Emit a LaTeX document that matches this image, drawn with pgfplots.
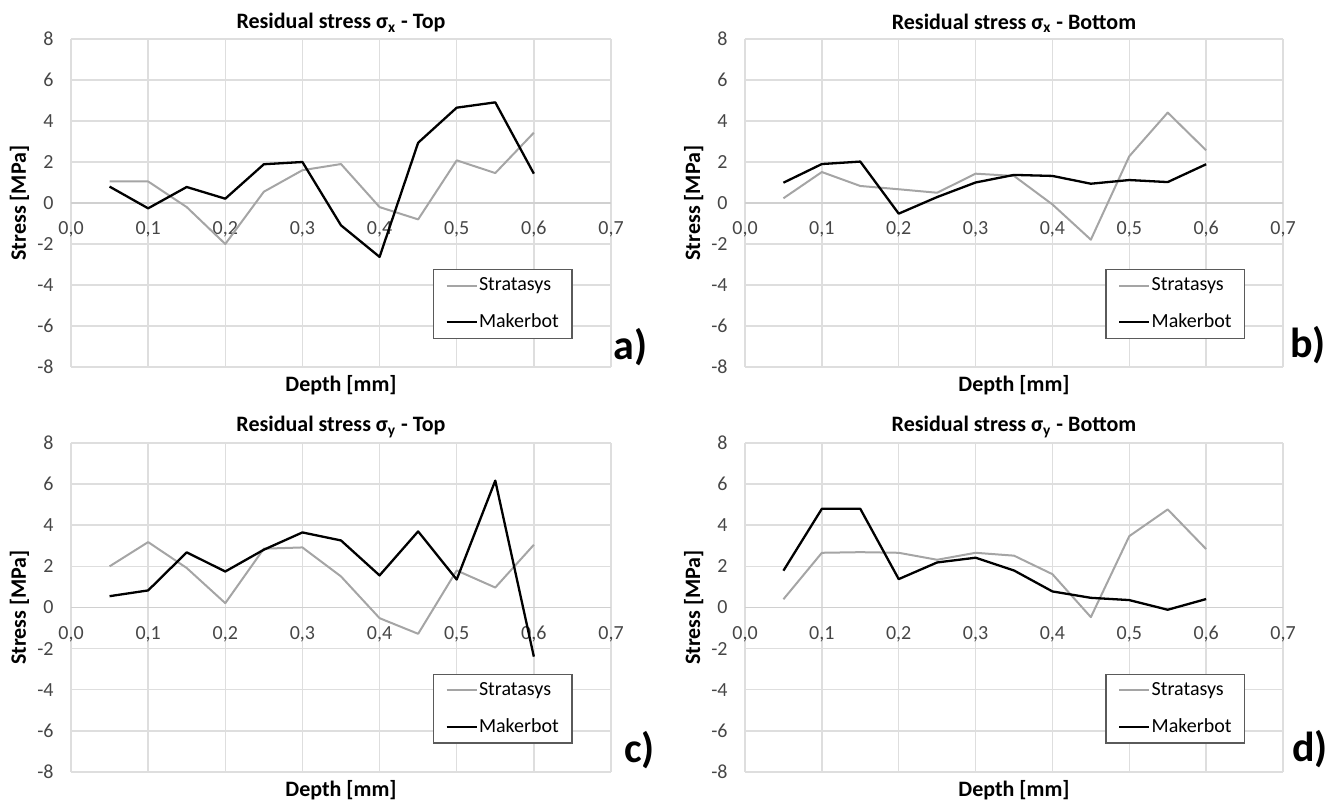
\documentclass[border=0pt]{standalone}
\usepackage{fontspec}
\setmainfont{Carlito}
\usepackage{pgfplots}
\pgfplotsset{compat=1.18}
\definecolor{strat}{RGB}{165,165,165}
\definecolor{gridc}{RGB}{222,222,222}
\definecolor{zeroc}{RGB}{208,208,208}
\definecolor{legc}{RGB}{90,90,90}
\definecolor{tickc}{RGB}{70,70,70}

\pgfplotsset{
  panel/.style={
    scale only axis, width=270pt, height=164pt,
    xmin=0, xmax=0.7, ymin=-8, ymax=8,
    xtick={0,0.1,0.2,0.3,0.4,0.5,0.6,0.7},
    ytick={-8,-6,-4,-2,0,2,4,6,8},
    grid=major, major grid style={gridc, line width=0.75pt},
    extra y ticks={0}, extra y tick labels={},
    extra y tick style={grid=major, major grid style={zeroc, line width=0.8pt}},
    axis line style={draw=none},
    major tick length=0pt,
    /pgf/number format/assume math mode=true,
    tick label style={font=\fontsize{10}{12}\selectfont, text=tickc},
    x tick label style={/pgf/number format/.cd, fixed, fixed zerofill, precision=1, use comma, /tikz/.cd, anchor=base, yshift=66pt},
    y tick label style={anchor=east, inner sep=0pt, xshift=-8.5pt},
    title style={font=\bfseries\fontsize{11}{13}\selectfont, at={(axis description cs:0.5,1)}, anchor=center, yshift=2pt},
    every axis x label/.style={at={(axis description cs:0.5,0)}, anchor=center, yshift=-9pt, font=\bfseries\fontsize{11}{13}\selectfont},
    every axis y label/.style={at={(axis description cs:-0.0954,0.5)}, rotate=90, anchor=center, font=\bfseries\fontsize{11}{13}\selectfont},
    xlabel={Depth [mm]}, ylabel={Stress [MPa]},
    legend style={at={(axis description cs:0.670,0.299)}, anchor=north west, draw=legc, line width=0.75pt, fill=white,
      inner xsep=6pt, inner ysep=2pt, row sep=6pt, font=\fontsize{10}{12}\selectfont,
      nodes={inner xsep=0.6pt, inner ysep=2pt, text depth=0.15em}},
    legend cell align=left,
    legend image code/.code={\draw[#1] (0pt,0pt) -- (15pt,0pt);},
    clip=false,
  },
  sline/.style={draw=strat, line width=1.0pt, line join=round, no markers},
  mline/.style={draw=black, line width=1.15pt, line join=round, no markers},
}

\begin{document}
\begin{tikzpicture}
\path[use as bounding box] (0,0) rectangle (667pt,400.5pt);

% a) sigma_x Top
\begin{axis}[panel, at={(35.5pt,217pt)}, anchor=south west,
  title={Residual stress σ\textsubscript{x} - Top}]
\addplot[sline] coordinates {(0.05,1.05) (0.10,1.05) (0.15,-0.2) (0.20,-2.0) (0.25,0.55) (0.30,1.6) (0.35,1.9) (0.40,-0.2) (0.45,-0.8) (0.50,2.08) (0.55,1.46) (0.60,3.43)};
\addplot[mline] coordinates {(0.05,0.8) (0.10,-0.26) (0.15,0.78) (0.20,0.21) (0.25,1.89) (0.30,2.0) (0.35,-1.09) (0.40,-2.63) (0.45,2.94) (0.50,4.65) (0.55,4.91) (0.60,1.43)};
\legend{Stratasys, Makerbot}
\end{axis}

% b) sigma_x Bottom
\begin{axis}[panel, at={(372.5pt,217pt)}, anchor=south west, width=269pt,
  title={Residual stress σ\textsubscript{x} - Bottom}]
\addplot[sline] coordinates {(0.05,0.23) (0.10,1.51) (0.15,0.83) (0.20,0.67) (0.25,0.5) (0.30,1.43) (0.35,1.32) (0.40,-0.07) (0.45,-1.79) (0.50,2.28) (0.55,4.41) (0.60,2.57)};
\addplot[mline] coordinates {(0.05,0.99) (0.10,1.9) (0.15,2.02) (0.20,-0.52) (0.25,0.29) (0.30,1.0) (0.35,1.37) (0.40,1.32) (0.45,0.94) (0.50,1.12) (0.55,1.02) (0.60,1.89)};
\legend{Stratasys, Makerbot}
\end{axis}

% c) sigma_y Top
\begin{axis}[panel, at={(35.5pt,14.5pt)}, anchor=south west, height=164.5pt,
  title={Residual stress σ\textsubscript{y} - Top}]
\addplot[sline] coordinates {(0.05,2.0) (0.10,3.18) (0.15,1.92) (0.20,0.21) (0.25,2.86) (0.30,2.92) (0.35,1.51) (0.40,-0.52) (0.45,-1.28) (0.50,1.8) (0.55,0.97) (0.60,3.05)};
\addplot[mline] coordinates {(0.05,0.55) (0.10,0.83) (0.15,2.68) (0.20,1.75) (0.25,2.81) (0.30,3.65) (0.35,3.26) (0.40,1.56) (0.45,3.7) (0.50,1.36) (0.55,6.17) (0.60,-2.39)};
\legend{Stratasys, Makerbot}
\end{axis}

% d) sigma_y Bottom
\begin{axis}[panel, at={(372.5pt,14.5pt)}, anchor=south west, width=269pt, height=164.5pt,
  title={Residual stress σ\textsubscript{y} - Bottom}]
\addplot[sline] coordinates {(0.05,0.4) (0.10,2.66) (0.15,2.69) (0.20,2.66) (0.25,2.32) (0.30,2.66) (0.35,2.52) (0.40,1.62) (0.45,-0.47) (0.50,3.47) (0.55,4.77) (0.60,2.84)};
\addplot[mline] coordinates {(0.05,1.79) (0.10,4.8) (0.15,4.8) (0.20,1.38) (0.25,2.19) (0.30,2.42) (0.35,1.8) (0.40,0.78) (0.45,0.47) (0.50,0.36) (0.55,-0.11) (0.60,0.41)};
\legend{Stratasys, Makerbot}
\end{axis}

\tikzset{plab/.style={anchor=base west, inner sep=0pt, font=\bfseries\fontsize{21}{23}\selectfont}}
\node[plab] at (306.5pt,220.5pt) {a)};
\node[plab] at (645pt,221.5pt) {b)};
\node[plab] at (312pt,19pt) {c)};
\node[plab] at (646pt,19.5pt) {d)};
\end{tikzpicture}
\end{document}
